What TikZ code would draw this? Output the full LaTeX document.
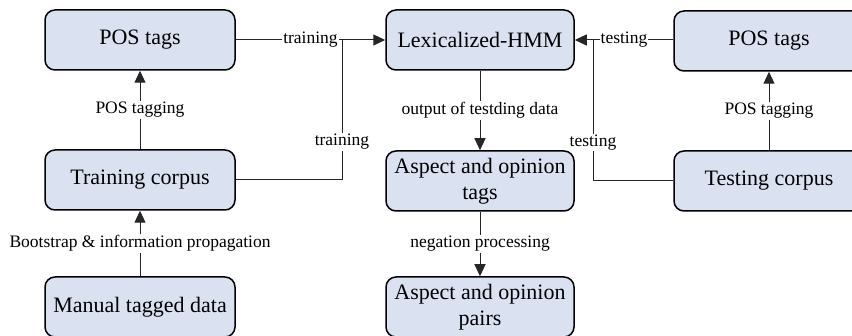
\documentclass[tikz,border=0pt]{standalone}
\usepackage{fontspec}
\setmainfont{Liberation Serif}
\usetikzlibrary{arrows.meta}
\definecolor{boxfill}{RGB}{218,226,241}
\tikzset{
  box/.style={draw=black, line width=1.5pt, fill=boxfill, rounded corners=10pt,
    minimum width=#1, minimum height=60pt, align=center, inner sep=2pt,
    font=\fontsize{22}{26}\selectfont},
  box/.default=190pt,
  conn/.style={draw=black!85, line width=1pt},
  arr/.style={conn, -{Triangle[length=12pt,width=11pt]}},
  lab/.style={fill=white, inner sep=1pt, font=\fontsize{17.5}{20}\selectfont}
}
\begin{document}
\begin{tikzpicture}[x=1pt,y=-1pt]
\useasboundingbox (0,0) rectangle (852,336);
\clip (0,0) rectangle (852,336);
\node[box] (posL) at (140,40) {POS tags};
\node[box] (train) at (140,180) {Training corpus};
\node[box] (manual) at (140,307) {Manual tagged data};
\node[box=188pt] (hmm) at (480,40) {Lexicalized-HMM};
\node[box=188pt] (atags) at (480,181) {Aspect and opinion\\tags};
\node[box=188pt] (apairs) at (480,307) {Aspect and opinion\\pairs};
\node[box] (posR) at (769,41) {POS tags};
\node[box] (testC) at (769,181) {Testing corpus};
\coordinate (jL) at (342,40);
\coordinate (jR) at (593,40);
% left side
\draw[arr] (posL.east |- hmm.west) -- node[lab]{training} (hmm.west);
\draw[conn] (train.east) -| node[lab,pos=0.636]{training} (jL);
\draw[arr] (train.north) -- node[lab]{POS tagging} (posL.south);
\draw[arr] (manual.north) -- node[lab]{Bootstrap \& information propagation} (train.south);
% center
\draw[arr] (hmm.south) -- node[lab]{output of testding data} (atags.north);
\draw[arr] (atags.south) -- node[lab]{negation processing} (apairs.north);
% right side
\draw[arr] (posR.west |- hmm.east) -- node[lab]{testing} (hmm.east);
\draw[conn] (testC.west) -| node[lab,pos=0.636]{testing} (jR);
\draw[arr] (testC.north) -- node[lab]{POS tagging} (posR.south);
\end{tikzpicture}
\end{document}
